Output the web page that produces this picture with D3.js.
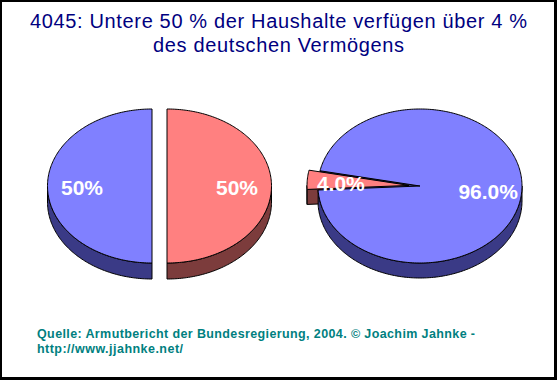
<!DOCTYPE html>
<html><head><meta charset="utf-8">
<script src="https://cdn.jsdelivr.net/npm/d3@7"></script>
<style>body{margin:0;background:#fff}svg{display:block}</style>
</head><body>
<script>
// ---- data ----
const titleLines = ["4045: Untere 50 % der Haushalte verfügen über 4 %", "des deutschen Vermögens"];
const sourceLines = ["Quelle: Armutbericht der Bundesregierung, 2004. © Joachim Jahnke -", "http://www.jjahnke.net/"];
const categories = ["Untere 50 % der Haushalte", "Obere 50 % der Haushalte"];
const shareHouseholds = [50, 50];     // left pie
const shareWealth = [4.0, 96.0];      // right pie

// ---- layout / style ----
const W = 557, H = 380;
const topColors = ["#FF8080", "#8080FF"];
const sideColors = ["#7c3c3c", "#3a3a86"];
const deg = Math.PI / 180;
const titleWidths = [497, 251];
const sourceWidths = [438, 146];
const pies = [
  { values: shareHouseholds, cx: 159.5, cy: 186, rx: 104.5, ry: 77, depth: 16, start: 0, explode: [7.5, 7.5], digits: 0 },
  { values: shareWealth, cx: 420, cy: 186, rx: 102, ry: 77, depth: 15, start: 267 * deg, explode: [11, 0], digits: 1 }
];

const svg = d3.select("body").append("svg").attr("width", W).attr("height", H);
svg.append("rect").attr("width", W).attr("height", H).attr("fill", "#000");
svg.append("rect").attr("x", 2).attr("y", 2).attr("width", W - 5).attr("height", H - 5).attr("fill", "#fff");

// title
svg.append("g").selectAll("text").data(titleLines).join("text")
  .attr("x", 278.5).attr("y", (d, i) => 28 + i * 24)
  .attr("text-anchor", "middle")
  .attr("font-family", "Arial, 'Liberation Sans', sans-serif")
  .attr("font-size", 20).attr("fill", "#000080")
  .attr("textLength", (d, i) => titleWidths[i]).attr("lengthAdjust", "spacing")
  .text(d => d);

// source
svg.append("g").selectAll("text").data(sourceLines).join("text")
  .attr("x", 37).attr("y", (d, i) => 338 + i * 15)
  .attr("font-family", "Arial, 'Liberation Sans', sans-serif")
  .attr("font-weight", "bold")
  .attr("font-size", 12.5).attr("fill", "#008080")
  .attr("textLength", (d, i) => sourceWidths[i]).attr("lengthAdjust", "spacing")
  .text(d => d);

const line = d3.line();

function ellPt(p, ox, oy, a, dz) {
  return [ox + p.rx * Math.sin(a), oy - p.ry * Math.cos(a) + (dz || 0)];
}
function arcPts(p, ox, oy, a0, a1, dz) {
  const n = Math.max(2, Math.ceil(Math.abs(a1 - a0) / (1 * deg)));
  return d3.range(n + 1).map(i => ellPt(p, ox, oy, a0 + (a1 - a0) * i / n, dz));
}

pies.forEach(p => {
  const arcs = d3.pie().sort(null).startAngle(p.start).endAngle(p.start + 2 * Math.PI)(p.values);
  const g = svg.append("g");
  const items = arcs.map((a, i) => {
    const mid = (a.startAngle + a.endAngle) / 2;
    const e = p.explode[i];
    return { a, i, mid, ox: p.cx + e * Math.sin(mid), oy: p.cy - e * Math.cos(mid) * (p.ry / p.rx) };
  });
  // sides: walls + cut faces
  items.forEach(it => {
    const { a, i, ox, oy } = it;
    for (let k = -1; k <= 2; k++) {
      const f0 = Math.max(a.startAngle, Math.PI / 2 + 2 * Math.PI * k);
      const f1 = Math.min(a.endAngle, 1.5 * Math.PI + 2 * Math.PI * k);
      if (f1 > f0) {
        const pts = arcPts(p, ox, oy, f0, f1, 0).concat(arcPts(p, ox, oy, f1, f0, p.depth));
        g.append("path").attr("d", line(pts) + "Z")
          .attr("fill", sideColors[i]).attr("stroke", "#000").attr("stroke-width", 1);
      }
    }
    [[a.startAngle, Math.sin(a.startAngle) < -1e-6], [a.endAngle, Math.sin(a.endAngle) > 1e-6]].forEach(([ang, vis]) => {
      if (!vis) return;
      const e = ellPt(p, ox, oy, ang, 0);
      const pts = [[ox, oy], e, [e[0], e[1] + p.depth], [ox, oy + p.depth]];
      g.append("path").attr("d", line(pts) + "Z")
        .attr("fill", sideColors[i]).attr("stroke", "#000").attr("stroke-width", 1);
    });
  });
  // top faces
  items.forEach(it => {
    const { a, i, ox, oy } = it;
    const pts = [[ox, oy]].concat(arcPts(p, ox, oy, a.startAngle, a.endAngle, 0));
    g.append("path").attr("d", line(pts) + "Z")
      .attr("fill", topColors[i]).attr("stroke", "#000").attr("stroke-width", 1);
  });
  // labels
  const total = d3.sum(p.values);
  items.forEach(it => {
    const r = 0.67;
    const x = it.ox + p.rx * r * Math.sin(it.mid);
    const y = it.oy - p.ry * r * Math.cos(it.mid) + 9;
    g.append("text").attr("x", x).attr("y", y)
      .attr("text-anchor", "middle")
      .attr("font-family", "Arial, 'Liberation Sans', sans-serif")
      .attr("font-weight", "bold").attr("font-size", 21).attr("fill", "#fff")
      .text(d3.format("." + p.digits + "f")(it.a.value / total * 100) + "%");
  });
});
</script>
</body></html>
